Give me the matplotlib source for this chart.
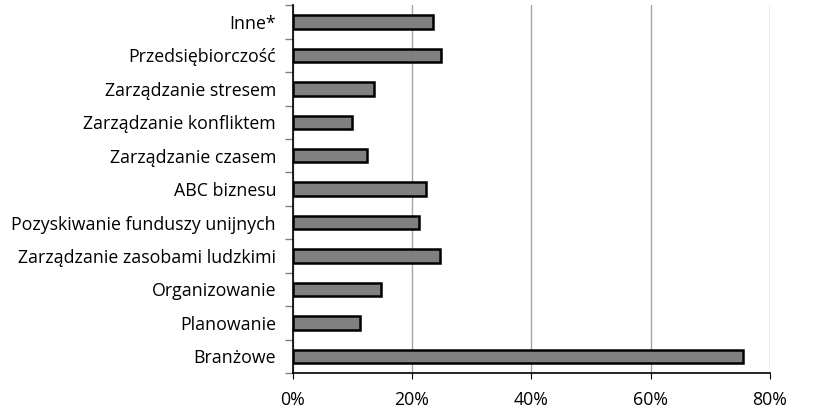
import numpy as np
import matplotlib
matplotlib.use('Agg')
import matplotlib.pyplot as plt
from matplotlib.ticker import FixedLocator

plt.rcParams['font.family'] = ['Open Sans', 'DejaVu Sans']

# kategorie od góry do dołu
kategorie = ['Inne*', 'Przedsiębiorczość', 'Zarządzanie stresem', 'Zarządzanie konfliktem',
             'Zarządzanie czasem', 'ABC biznesu', 'Pozyskiwanie funduszy unijnych',
             'Zarządzanie zasobami ludzkimi', 'Organizowanie', 'Planowanie', 'Branżowe']
wartosci = [23.5, 24.8, 13.6, 10.0, 12.4, 22.3, 21.1, 24.7, 14.8, 11.2, 75.5]
x_ticks = [0, 20, 40, 60, 80]
x_labels = ['0%', '20%', '40%', '60%', '80%']

fig = plt.figure(figsize=(8.2, 4.09), dpi=100)
ax = fig.add_axes([0.357, 0.088, 0.582, 0.899])

n = len(kategorie)
y = np.arange(n)[::-1]
ax.barh(y, wartosci, height=0.4, color='#808080', edgecolor='black', linewidth=1.8, zorder=3)

ax.set_xlim(0, 80)
ax.set_ylim(-0.5, n - 0.5)
ax.set_xticks(x_ticks)
ax.set_xticklabels(x_labels, fontsize=12.8)
ax.set_yticks(y)
ax.set_yticklabels(kategorie, fontsize=12.8)
ax.tick_params(axis='y', length=0, pad=12)
ax.yaxis.set_minor_locator(FixedLocator(np.arange(-0.5, n, 1.0)))
ax.tick_params(axis='y', which='minor', length=6, color='#808080', width=1)
ax.tick_params(axis='x', length=4, color='black', pad=9)

ax.grid(axis='x', color='#a6a6a6', linewidth=1, zorder=0)
ax.spines['top'].set_visible(False)
ax.spines['right'].set_visible(False)
ax.spines['left'].set_linewidth(1.2)
ax.spines['bottom'].set_linewidth(1.2)

fig.savefig('out.png', dpi=100)
